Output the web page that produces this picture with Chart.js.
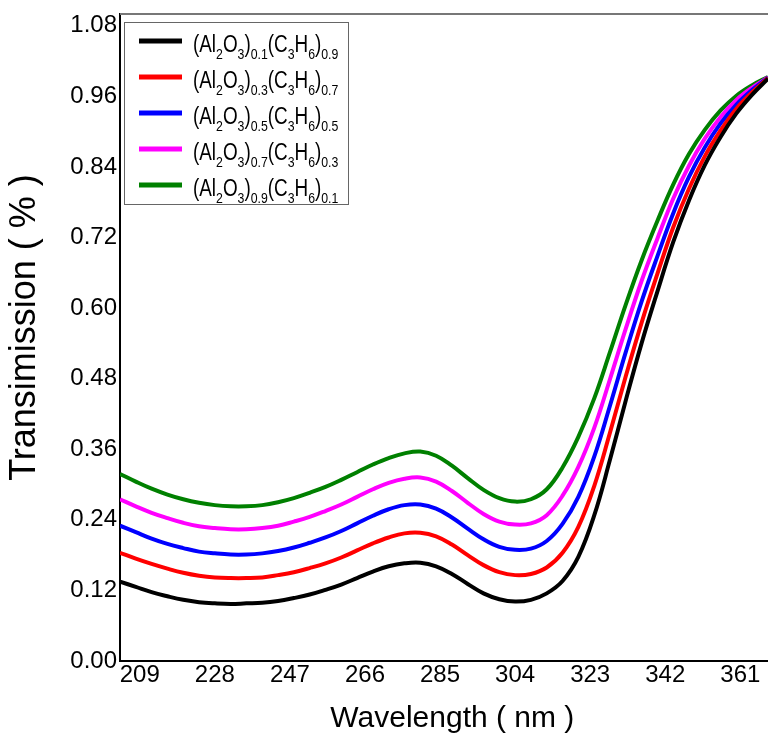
<!DOCTYPE html>
<html>
<head>
<meta charset="utf-8">
<script src="https://cdn.jsdelivr.net/npm/chart.js@4.4.1/dist/chart.umd.min.js"></script>
<style>
  html, body { margin: 0; padding: 0; background: #fff; }
  #wrap { width: 768px; height: 741px; }
</style>
</head>
<body>
<div id="wrap"><canvas id="chart"></canvas></div>
<script>
// wavelength (nm)
const wavelengths = [204, 208, 212, 216, 220, 224, 228, 232, 236, 240, 244, 248, 252, 256,
  260, 264, 268, 272, 276, 280, 284, 288, 292, 296, 300, 304, 308, 312, 316, 320, 324, 328,
  332, 336, 340, 344, 348, 352, 356, 360, 364, 368];

// transmission for (Al2O3)x(C3H6)1-x
const trans01 = [0.135, 0.126, 0.117, 0.110, 0.104, 0.100, 0.098, 0.097, 0.098, 0.099, 0.102, 0.107, 0.113, 0.121,
  0.130, 0.141, 0.152, 0.161, 0.166, 0.167, 0.161, 0.148, 0.131, 0.115, 0.105, 0.101, 0.104, 0.115, 0.136, 0.177, 0.247, 0.342,
  0.443, 0.540, 0.628, 0.712, 0.783, 0.843, 0.891, 0.931, 0.963, 0.990];
const trans03 = [0.184, 0.174, 0.165, 0.157, 0.150, 0.145, 0.142, 0.141, 0.141, 0.142, 0.146, 0.151, 0.158, 0.166,
  0.176, 0.188, 0.200, 0.210, 0.217, 0.218, 0.212, 0.198, 0.180, 0.163, 0.151, 0.146, 0.148, 0.159, 0.184, 0.228, 0.297, 0.388,
  0.484, 0.575, 0.658, 0.737, 0.803, 0.858, 0.902, 0.939, 0.967, 0.991];
const trans05 = [0.230, 0.219, 0.208, 0.199, 0.192, 0.186, 0.183, 0.181, 0.181, 0.183, 0.187, 0.193, 0.201, 0.210,
  0.221, 0.234, 0.247, 0.258, 0.265, 0.266, 0.259, 0.244, 0.225, 0.207, 0.194, 0.189, 0.191, 0.204, 0.233, 0.279, 0.347, 0.434,
  0.525, 0.611, 0.688, 0.761, 0.823, 0.873, 0.914, 0.946, 0.971, 0.992];
const trans07 = [0.275, 0.263, 0.252, 0.243, 0.235, 0.229, 0.226, 0.224, 0.224, 0.226, 0.230, 0.237, 0.245, 0.255,
  0.266, 0.279, 0.292, 0.303, 0.310, 0.312, 0.305, 0.289, 0.269, 0.250, 0.237, 0.232, 0.234, 0.248, 0.281, 0.330, 0.396, 0.479,
  0.565, 0.646, 0.718, 0.786, 0.842, 0.888, 0.925, 0.954, 0.975, 0.992];
const trans09 = [0.318, 0.305, 0.293, 0.283, 0.275, 0.269, 0.265, 0.263, 0.263, 0.265, 0.270, 0.277, 0.286, 0.296,
  0.308, 0.321, 0.334, 0.345, 0.353, 0.356, 0.349, 0.332, 0.311, 0.291, 0.277, 0.271, 0.275, 0.292, 0.329, 0.381, 0.446, 0.525,
  0.606, 0.681, 0.748, 0.810, 0.862, 0.903, 0.936, 0.961, 0.979, 0.993];

const alFractions = ['0.1', '0.3', '0.5', '0.7', '0.9'];
const chFractions = ['0.9', '0.7', '0.5', '0.3', '0.1'];
const seriesColors = ['#000000', '#ff0000', '#0000ff', '#ff00ff', '#008000'];

const xTicks = [209, 228, 247, 266, 285, 304, 323, 342, 361];
const yTicks = [0, 0.12, 0.24, 0.36, 0.48, 0.60, 0.72, 0.84, 0.96, 1.08];

const FONT = "'Liberation Sans', Arial, sans-serif";

// label pieces: [text, isSubscript]
function labelParts(al, ch) {
  return [['(Al', false], ['2', true], ['O', false], ['3', true], [')', false], [al, true],
    ['(C', false], ['3', true], ['H', false], ['6', true], [')', false], [ch, true]];
}

const allSeries = [trans01, trans03, trans05, trans07, trans09];

const datasets = allSeries.map((s, i) => ({
  label: '(Al2O3)' + alFractions[i] + '(C3H6)' + chFractions[i],
  data: wavelengths.map((w, j) => ({ x: w, y: s[j] })),
  borderColor: seriesColors[i],
  borderWidth: 4,
  pointRadius: 0,
  tension: 0.4,
  fill: false
}));

// Custom legend with subscripts + top frame line
const FrameLegendPlugin = {
  id: 'frame-legend',
  afterDraw(chart) {
    const ctx = chart.ctx;
    const area = chart.chartArea;
    ctx.save();
    // top border
    ctx.strokeStyle = '#777777';
    ctx.lineWidth = 2;
    ctx.beginPath();
    ctx.moveTo(area.left, area.top);
    ctx.lineTo(area.right, area.top);
    ctx.stroke();

    // legend box
    const bx = 124, by = 22, bw = 224, bh = 182;
    ctx.fillStyle = '#ffffff';
    ctx.fillRect(bx, by, bw, bh);
    ctx.strokeStyle = '#666666';
    ctx.lineWidth = 1;
    ctx.strokeRect(bx + 0.5, by + 0.5, bw, bh);

    for (let i = 0; i < seriesColors.length; i++) {
      const rowY = 41 + 36 * i;
      ctx.strokeStyle = seriesColors[i];
      ctx.lineWidth = 5;
      ctx.beginPath();
      ctx.moveTo(139, rowY);
      ctx.lineTo(182, rowY);
      ctx.stroke();

      // narrow-looking label: squeeze horizontally
      ctx.save();
      ctx.translate(193, 0);
      ctx.scale(0.82, 1);
      let x = 0;
      ctx.fillStyle = '#000';
      ctx.textBaseline = 'alphabetic';
      ctx.textAlign = 'left';
      for (const [txt, sub] of labelParts(alFractions[i], chFractions[i])) {
        ctx.font = (sub ? '15px ' : '23px ') + FONT;
        ctx.fillText(txt, x, rowY + (sub ? 18 : 11));
        x += ctx.measureText(txt).width;
      }
      ctx.restore();
    }
    ctx.restore();
  }
};

new Chart(document.getElementById('chart'), {
  type: 'line',
  data: { datasets },
  options: {
    responsive: true,
    maintainAspectRatio: false,
    animation: false,
    layout: { padding: { top: 14, right: 0, left: 0, bottom: 0 } },
    plugins: {
      legend: { display: false },
      tooltip: { enabled: false }
    },
    scales: {
      x: {
        type: 'linear',
        min: 204,
        max: 368,
        afterBuildTicks: scale => { scale.ticks = xTicks.map(v => ({ value: v })); },
        afterFit: scale => { scale.height = 80; },
        grid: { display: false, drawTicks: false },
        border: { display: true, color: '#000', width: 2 },
        ticks: {
          color: '#000',
          padding: 0,
          maxRotation: 0,
          autoSkip: false,
          font: { family: FONT, size: 24 }
        },
        title: {
          display: true,
          text: '  Wavelength ( nm )',
          color: '#000',
          font: { family: FONT, size: 30 },
          padding: { top: 4, bottom: 4 }
        }
      },
      y: {
        min: 0,
        max: 1.1,
        afterBuildTicks: scale => { scale.ticks = yTicks.map(v => ({ value: v })); },
        afterFit: scale => { scale.width = 120; },
        grid: { display: false, drawTicks: false },
        border: { display: true, color: '#000', width: 2 },
        ticks: {
          color: '#000',
          padding: 3,
          autoSkip: false,
          font: { family: FONT, size: 24, lineHeight: 0.9 },
          callback: v => Number(v).toFixed(2)
        },
        title: {
          display: true,
          text: '  Transimission ( % )',
          color: '#000',
          font: { family: FONT, size: 36 },
          padding: { top: 3, bottom: 4 }
        }
      }
    }
  },
  plugins: [FrameLegendPlugin]
});
</script>
</body>
</html>
